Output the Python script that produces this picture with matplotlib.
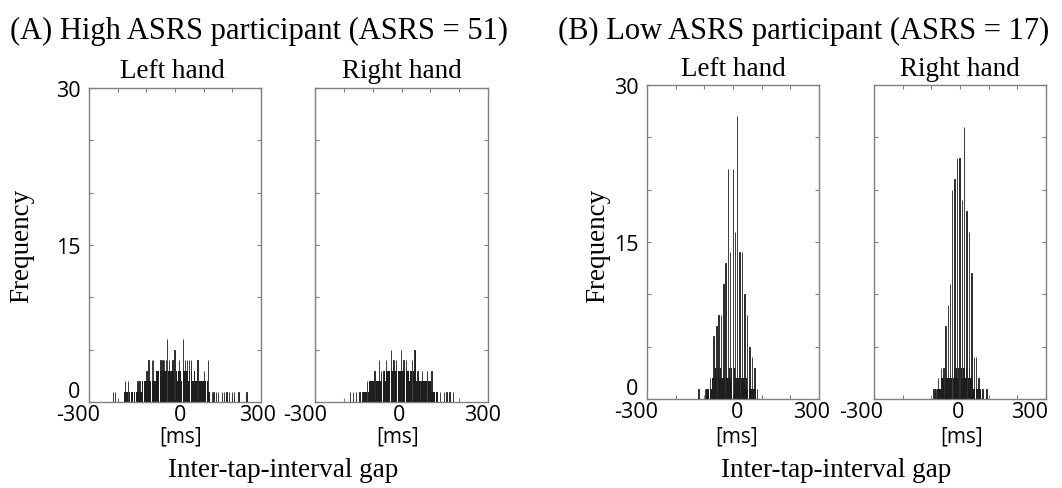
import numpy as np
import matplotlib
matplotlib.use("Agg")
import matplotlib.pyplot as plt

# ---------------- data ----------------
# Panel A: High ASRS participant, left hand
a_floor_start = -176
a_floor_cnt = [1, 1, 1, 1, 1, 0, 1, 1, 0, 1, 1, 1, 1, 1, 1, 1,
               2, 2, 2, 2, 2, 2, 2, 2, 2, 2, 2, 2,
               3, 3, 3, 3, 3, 3, 3, 3, 3, 3, 3, 3, 3, 3, 3, 3, 3, 3,
               2, 3, 3, 3, 2, 3, 3, 3, 3, 3, 2, 3, 3, 2, 2, 3,
               2, 2, 2, 2, 2, 2, 2, 2, 2, 2, 2, 1, 1]
a_spike_pos = [-217, -209, -174, -163, -131, -124, -107, -99, -93, -81, -76, -60,
               -50, -44, -38, -31, -27, -20, -9, -2, 14, 29, 35, 41, 48, 55, 78,
               101, 116, 128, 134, 143, 151, 163, 171, 180, 189, 198, 206, 221, 250]
a_spike_cnt = [1, 1, 2, 2, 2, 2, 2, 3, 4, 4, 4, 3,
               4, 4, 4, 4, 6, 4, 4, 5, 4, 6, 4, 4, 4, 4, 4,
               3, 4, 1, 1, 1, 1, 1, 1, 1, 1, 1, 1, 1, 1]

# Panel B: High ASRS participant, right hand
b_floor_start = -132
b_floor_cnt = [1, 1, 1, 1, 1,
               2, 2, 2, 2, 2, 2, 2, 2, 2, 2, 2, 2, 2,
               3, 2, 3, 3, 3, 3, 3, 3, 3, 3, 3, 3, 3, 3, 3, 3, 3, 3, 3, 3, 3, 3,
               2, 3, 3, 3, 3, 3,
               2, 2, 2, 2, 2, 2, 2, 2, 2, 2, 2, 2, 2,
               1, 1, 1, 1, 1, 1]
b_spike_pos = [-178, -169, -158, -146, -135, -125, -120, -111, -94, -79, -71, -63,
               -53, -45, -36, -28, -19, -10, -1, 7, 15, 23, 30, 37, 45, 47, 55, 63,
               71, 80, 88, 95, 104, 112, 121, 133, 147, 156, 167, 179]
b_spike_cnt = [1, 1, 1, 1, 1, 1, 2, 2, 3, 4, 3, 3,
               4, 3, 5, 4, 4, 3, 5, 4, 4, 3, 3, 4, 5, 5, 3, 2,
               3, 2, 3, 2, 3, 1, 1, 1, 1, 1, 1, 1]

# Panel C: Low ASRS participant, left hand
c_floor_start = -92
c_floor_cnt = [1, 1, 1, 1, 1, 2, 2, 2, 3, 2, 3, 2, 3, 2, 2, 2, 2, 2, 2, 2,
               3, 2, 3, 2, 3, 2, 2, 2, 2, 2, 2, 2, 2, 2, 1, 2, 1, 1, 1, 1, 1, 1, 1, 1]
c_spike_pos = [-120, -97, -92, -87, -80, -68, -58, -50, -42, -33, -26, -18,
               -10, 0, 8, 15, 23, 31, 40, 48, 58, 66, 75, 83]
c_spike_cnt = [1, 1, 1, 1, 2, 6, 7, 8, 8, 11, 13, 22,
               14, 22, 16, 27, 14, 14, 10, 8, 5, 4, 3, 1]

# Panel D: Low ASRS participant, right hand
d_floor_start = -84
d_floor_cnt = [1, 1, 1, 1, 1, 2, 2, 2, 2, 2, 2, 2, 2, 2, 2, 2, 3, 2, 3, 2,
               3, 3, 3, 2, 3, 3, 2, 3, 2, 3, 2, 2, 2, 1, 1, 1, 1, 1, 1, 1]
d_spike_pos = [-93, -84, -76, -66, -58, -50, -43, -35, -27, -19, -10, -2,
               7, 15, 23, 31, 40, 48, 56, 64, 79, 93]
d_spike_cnt = [1, 1, 2, 3, 3, 7, 9, 11, 20, 21, 23, 23,
               19, 26, 18, 16, 12, 4, 4, 2, 1, 1]

group_titles = ["(A) High ASRS participant (ASRS = 51)",
                "(B) Low ASRS participant (ASRS = 17)"]
hand_titles = ["Left hand", "Right hand"]
x_ticks = [-300, -200, -100, 0, 100, 200, 300]
x_label_vals = [-300, 0, 300]
x_label_txt = ["-300", "0", "300"]
y_ticks = [0, 5, 10, 15, 20, 25, 30]
y_labels = ["0", "", "", "15", "", "", "30"]
floor_step = 4

# ---------------- figure ----------------
W, H = 1062, 489
fig = plt.figure(figsize=(W / 100, H / 100), dpi=100)
fig.patch.set_facecolor("white")

SERIF = "Liberation Serif"
SANS = "Open Sans"
spine_col = "#808080"
bar_col = "#1e1e1e"
TICK_FS = 15.5
PX = 0.72  # points per pixel at 100 dpi


def px_rect(x0, y0, x1, y1):
    return [x0 / W, 1 - y1 / H, (x1 - x0) / W, (y1 - y0) / H]


rects = [px_rect(89, 89, 261, 403), px_rect(315, 89, 488, 403),
         px_rect(647, 86, 819, 400), px_rect(874, 86, 1046, 400)]
panels = [(a_floor_start, a_floor_cnt, a_spike_pos, a_spike_cnt),
          (b_floor_start, b_floor_cnt, b_spike_pos, b_spike_cnt),
          (c_floor_start, c_floor_cnt, c_spike_pos, c_spike_cnt),
          (d_floor_start, d_floor_cnt, d_spike_pos, d_spike_cnt)]
# horizontal pixel offsets of the -300 / 0 / 300 labels, as seen in the reference
label_dx = [(-11, 5, -3), (-10, -2, -5), (-11, 4, -7), (-13, -2, -16)]

axes = []
for i, (rect, (fs, fc, sp, sc)) in enumerate(zip(rects, panels)):
    ax = fig.add_axes(rect)
    axes.append(ax)
    fpos = np.arange(len(fc)) * floor_step + fs
    ax.bar(fpos, fc, width=3.4, color=bar_col, linewidth=0, zorder=2)
    ax.bar(sp, sc, width=1.2, color=bar_col, edgecolor=bar_col,
           linewidth=0.6, zorder=3)
    ax.set_xlim(-300, 300)
    ax.set_ylim(0, 30)
    ax.set_xticks(x_ticks)
    ax.set_xticklabels([""] * len(x_ticks))
    for xv, txt, dx in zip(x_label_vals, x_label_txt, label_dx[i]):
        ax.annotate(txt, xy=(xv, 0), xycoords=("data", "axes fraction"),
                    xytext=(dx * PX, -12.5 * PX), textcoords="offset points",
                    ha="center", va="center", fontfamily=SANS, fontsize=TICK_FS,
                    annotation_clip=False)
    ax.set_yticks(y_ticks)
    if i in (0, 2):
        ax.set_yticklabels(y_labels, fontfamily=SANS, fontsize=TICK_FS)
        lab0 = ax.get_yticklabels()[0]
        lab0.set_verticalalignment("bottom")
    else:
        ax.set_yticklabels([""] * len(y_ticks))
    ax.tick_params(direction="in", length=3, width=0.8, color=spine_col,
                   top=True, right=True, pad=6, labelcolor="black")
    for s in ax.spines.values():
        s.set_color(spine_col)
        s.set_linewidth(1.0)


def ftext(x, y, s, **kw):
    fig.text(x / W, 1 - y / H, s, **kw)


# group titles
ftext(259, 31, group_titles[0], ha="center", va="center", fontfamily=SERIF, fontsize=22)
ftext(804, 31, group_titles[1], ha="center", va="center", fontfamily=SERIF, fontsize=22)

# hand titles
ftext(172, 78, hand_titles[0], ha="center", va="baseline", fontfamily=SERIF, fontsize=19.5)
ftext(402, 78, hand_titles[1], ha="center", va="baseline", fontfamily=SERIF, fontsize=19.5)
ftext(733, 76, hand_titles[0], ha="center", va="baseline", fontfamily=SERIF, fontsize=19.5)
ftext(960, 76, hand_titles[1], ha="center", va="baseline", fontfamily=SERIF, fontsize=19.5)

# y labels
ftext(22, 246, "Frequency", ha="center", va="center", rotation=90,
      fontfamily=SERIF, fontsize=19.5)
ftext(598, 246, "Frequency", ha="center", va="center", rotation=90,
      fontfamily=SERIF, fontsize=19.5)

# [ms] units
for xc in (181, 398, 737, 962):
    ftext(xc, 437, "[ms]", ha="center", va="center", fontfamily=SANS, fontsize=15)

# x labels
ftext(283, 471, "Inter-tap-interval gap", ha="center", va="center",
      fontfamily=SERIF, fontsize=19.5)
ftext(836, 471, "Inter-tap-interval gap", ha="center", va="center",
      fontfamily=SERIF, fontsize=19.5)

fig.savefig("out.png", dpi=100, facecolor="white")
